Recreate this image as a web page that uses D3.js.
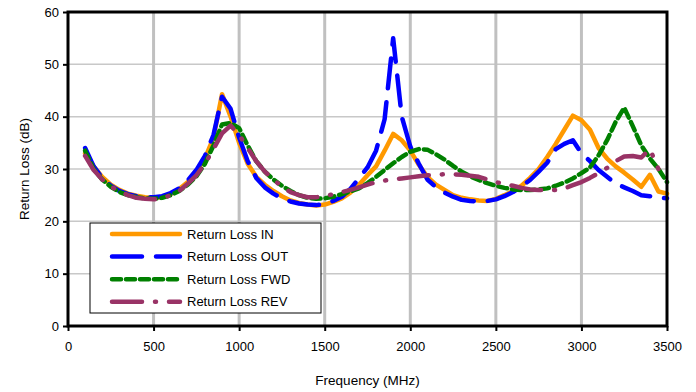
<!DOCTYPE html>
<html><head><meta charset="utf-8">
<script src="https://cdn.jsdelivr.net/npm/d3@7"></script>
<style>body{margin:0;background:#fff;}svg{display:block;font-family:"Liberation Sans",Arial,sans-serif;}</style>
</head><body>
<svg id="c" width="696" height="392"></svg>
<script>
const freqs = d3.range(100, 3501, 50);
const seriesNames = ["Return Loss IN","Return Loss OUT","Return Loss FWD","Return Loss REV"];
const inVals = [33,30.5,28.5,27,26,25.3,24.9,24.6,24.5,24.6,25.2,26.2,27.5,29.5,32,36,44.3,40,35,31,28.5,27,25.8,24.8,24.0,23.5,23.2,23.0,23.2,23.7,24.4,25.5,27,28.8,30.5,33.5,36.7,35.5,33.5,30.8,28.5,27,26,25,24.5,24.2,24.0,23.9,24.3,25,25.8,26.8,28.3,30,32.3,34.8,37.5,40.2,39.3,37.5,34,32,30.5,29.3,28,26.6,28.9,25.7,25.3];
const outVals = [34,30.5,28.3,26.8,25.8,25.2,24.8,24.6,24.6,24.8,25.4,26.3,27.8,29.8,32.5,36.5,43.8,41.5,36,31.5,28.3,26.5,25.3,24.4,23.8,23.4,23.2,23.1,23.3,23.9,24.7,26.2,28.2,30.3,33.5,39.5,55,40,34.3,31,28,26.5,25.5,24.7,24.1,23.9,23.8,23.9,24.2,24.8,25.6,26.7,27.9,29.5,31.2,33.8,34.8,35.5,33,31.5,29.8,28.5,27.2,26.5,25.8,25.0,24.8,24.6,24.4];
const fwdVals = [33.5,30,28,26.6,25.6,25,24.6,24.4,24.3,24.5,25,25.8,27,28.6,31,34.5,38.5,38.8,37.8,34.5,31.5,29.5,28,26.8,25.8,25,24.5,24.3,24.4,24.7,25.2,25.7,26.3,27.3,28.5,29.8,31.1,32.3,33.3,33.8,33.7,32.8,31.8,30.6,29.5,28.6,27.9,27.3,26.8,26.4,26.1,26.0,26.0,26.1,26.3,26.8,27.4,28.2,29.2,30.3,32.6,35.5,39,41.7,38.2,34.5,32,30,27.5];
const revVals = [32.5,29.8,28,26.7,25.7,25,24.5,24.3,24.2,24.4,25,25.8,27.2,28.8,31,33.8,36.8,38.3,36.5,34,31.5,29.5,28,26.6,25.6,25,24.6,24.6,24.8,25.2,25.6,26.0,26.5,27.0,27.5,27.8,28.0,28.2,28.4,28.6,28.8,28.9,29.0,29.0,28.9,28.7,28.5,28.0,27.5,27.1,26.8,26.4,26.1,26.0,26.0,26.0,26.3,26.9,27.5,28.3,29.2,30.2,31.5,32.4,32.5,32.2,33.8,30,null];
const xTicks = [0,500,1000,1500,2000,2500,3000,3500];
const yTicks = [0,10,20,30,40,50,60];

const styles = [
  {color:"#FF9900", dash:null},
  {color:"#0000FF", dash:"30,14"},
  {color:"#008000", dash:"9,5"},
  {color:"#993366", dash:"30,13,1,13"}
];
const allVals = [inVals,outVals,fwdVals,revVals];

const svg = d3.select("#c");
const L=68,R=667,T=12,B=326;
const x = d3.scaleLinear().domain([0,3500]).range([L,R]);
const y = d3.scaleLinear().domain([0,60]).range([B,T]);

// grid
svg.append("g").selectAll("line").data(yTicks.filter(v=>v>0&&v<60)).join("line")
  .attr("x1",L).attr("x2",R).attr("y1",d=>y(d)).attr("y2",d=>y(d))
  .attr("stroke","#c8c8c8").attr("stroke-width",1.5);
svg.append("g").selectAll("line").data(xTicks.filter(v=>v>0&&v<3500)).join("line")
  .attr("y1",T).attr("y2",B).attr("x1",d=>x(d)).attr("x2",d=>x(d))
  .attr("stroke","#c0c0c0").attr("stroke-width",3);

// series
const line = d3.line().defined(d=>d[1]!=null).x(d=>x(d[0])).y(d=>y(d[1]));
allVals.forEach((vals,i)=>{
  const data = freqs.map((f,j)=>[f,vals[j]]);
  const p = svg.append("path").datum(data).attr("d",line)
    .attr("fill","none").attr("stroke",styles[i].color).attr("stroke-width",4.5)
    .attr("stroke-linecap","round").attr("stroke-linejoin","round");
  if(styles[i].dash) p.attr("stroke-dasharray",styles[i].dash);
});

// axes
const xa = svg.append("g").attr("transform",`translate(0,${B})`)
  .call(d3.axisBottom(x).tickValues(xTicks).tickFormat(d3.format("d")).tickSize(5).tickSizeOuter(0));
const ya = svg.append("g").attr("transform",`translate(${L},0)`)
  .call(d3.axisLeft(y).tickValues(yTicks).tickFormat(d3.format("d")).tickSize(5).tickSizeOuter(0));
[xa,ya].forEach(a=>{
  a.select(".domain").remove();
  a.selectAll("line").attr("stroke","#000").attr("stroke-width",2);
  a.selectAll("text").attr("font-size",13).attr("fill","#000").attr("font-family","Liberation Sans, Arial, sans-serif");
});
xa.selectAll("text").attr("dy","1.3em");
ya.selectAll("text").attr("x",-9);

// frame
svg.append("rect").attr("x",L).attr("y",T).attr("width",R-L).attr("height",B-T)
  .attr("fill","none").attr("stroke","#000").attr("stroke-width",3);

// axis titles
svg.append("text").attr("x",(L+R)/2).attr("y",385).attr("text-anchor","middle")
  .attr("font-size",13.5).text("Frequency (MHz)");
svg.append("text").attr("transform",`translate(29,${(T+B)/2}) rotate(-90)`).attr("text-anchor","middle")
  .attr("font-size",13.5).text("Return Loss (dB)");

// legend
const lg = svg.append("g");
lg.append("rect").attr("x",90).attr("y",223).attr("width",231).attr("height",90)
  .attr("fill","#fff").attr("stroke","#000").attr("stroke-width",1);
seriesNames.forEach((n,i)=>{
  const yy = 234 + i*22.6;
  const l = lg.append("line").attr("x1",112).attr("x2",180).attr("y1",yy).attr("y2",yy)
    .attr("stroke",styles[i].color).attr("stroke-width",4.5).attr("stroke-linecap","round");
  if(styles[i].dash) l.attr("stroke-dasharray",styles[i].dash);
  lg.append("text").attr("x",187).attr("y",yy+4.5).attr("font-size",13).text(n);
});
</script>
</body></html>
